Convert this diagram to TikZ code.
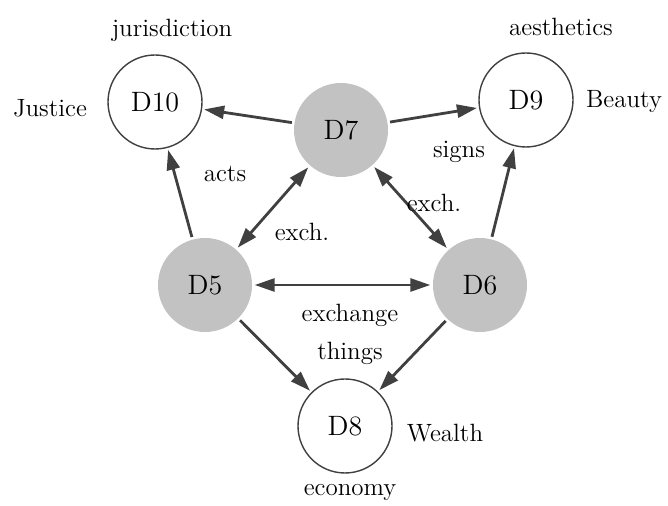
\documentclass[tikz,border=0pt]{standalone}
\usepackage{amsmath}
\usepackage{tikz}
\usetikzlibrary{arrows.meta,calc}

\tikzset{
	dom/.style = {circle, draw = black!75, line width = 0.7pt, minimum size = 47pt, inner sep = 0pt,
		font = \fontsize{14}{16}\selectfont},
	domg/.style = {dom, draw = none, fill = black!24},
	lab/.style = {inner sep = 1pt},
	conn/.style = {draw = black!75, line width = 1.4pt, shorten <= 1pt, shorten >= 1pt,
		arrows = {-Triangle[length = 10pt, width = 6.5pt]}},
}

\begin{document}
\begin{tikzpicture}[x = 0.5pt, y = -0.5pt, font = \fontsize{12.5}{15}\selectfont]
	\useasboundingbox (0, 0) rectangle (668, 506);

	\node[dom] (10) at (155, 102) {D10};
	\node[dom] (9) at (526, 100) {D9};
	\node[domg] (7) at (341, 130) {D7};
	\node[domg] (5) at (205, 285) {D5};
	\node[domg] (6) at (480, 285) {D6};
	\node[dom] (8) at (345, 426) {D8};

	\node[lab] (jur) at (172, 30) {jurisdiction};
	\node[lab] (jus) at (50, 108) {Justice};
	\node[lab] (aes) at (561, 27) {aesthetics};
	\node[lab] (bea) at (624, 102) {Beauty};
	\node[lab] (eco) at (350, 492) {economy};
	\node[lab] (wea) at (445, 433) {Wealth};

	\draw [conn] (7) -- (10);
	\draw [conn] (7) -- (9);
	\draw [conn] (5) -- (10);
	\draw [conn] (6) -- (9);
	\draw [conn, arrows = {Triangle[length = 10pt, width = 6.5pt]-Triangle[length = 10pt, width = 6.5pt]}] (7) -- (5);
	\draw [conn, arrows = {Triangle[length = 10pt, width = 6.5pt]-Triangle[length = 10pt, width = 6.5pt]}] (7) -- (6);
	\draw [conn, arrows = {Triangle[length = 10pt, width = 6.5pt]-Triangle[length = 10pt, width = 6.5pt]}] (5) -- (6);
	\draw [conn] (5) -- (8);
	\draw [conn] (6) -- (8);

	\node[lab] (acts) at (225, 174) {acts};
	\node[lab] (signs) at (459, 152) {signs};
	\node[lab] (exl) at (302, 232) {exch.};
	\node[lab] (exr) at (434, 203) {exch.};
	\node[lab] (exc) at (350, 315) {exchange};
	\node[lab] (thi) at (350, 353) {things};
\end{tikzpicture}
\end{document}
